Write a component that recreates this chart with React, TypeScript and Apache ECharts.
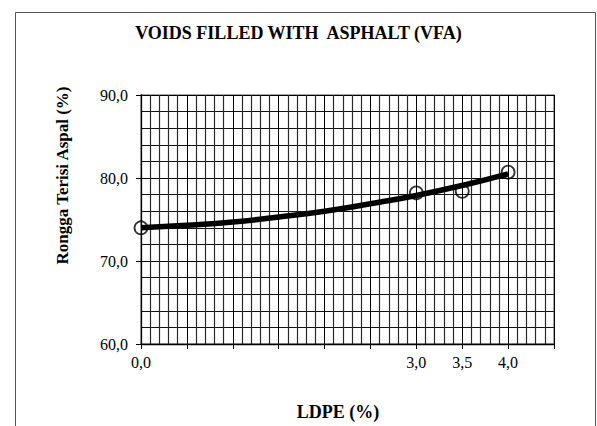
import React, { useEffect, useRef } from "react";
import * as echarts from "echarts";

const ldpe = [0, 3, 3.5, 4];
const vfa = [74.0, 78.2, 78.4, 80.7];
const trendX = [0, 0.5, 1, 1.5, 2, 2.5, 3, 3.5, 4];
const trendY = [74.0, 74.3, 74.7, 75.3, 76.0, 76.9, 77.9, 79.1, 80.5];
const xLabelValues = [0, 3, 3.5, 4];

const SERIF = '"Liberation Serif", "Times New Roman", serif';

const fmt = (v: number) => v.toFixed(1).replace(".", ",");

export default function App() {
  const ref = useRef<HTMLDivElement>(null);
  useEffect(() => {
    if (!ref.current) return;
    const chart = echarts.init(ref.current, null, { renderer: "svg" });
    chart.setOption({
      animation: false,
      backgroundColor: "#fff",
      title: {
        text: "VOIDS FILLED WITH  ASPHALT (VFA)",
        left: "center",
        top: 19,
        textStyle: { fontFamily: SERIF, fontWeight: "bold", fontSize: 18, color: "#000" },
      },
      graphic: [
        {
          type: "rect",
          shape: { x: 15.5, y: 12.5, width: 580, height: 440 },
          style: { fill: "none", stroke: "#555", lineWidth: 1 },
          silent: true,
        },
      ],
      grid: {
        left: 141,
        right: 43,
        top: 95,
        bottom: 81,
        show: true,
        borderColor: "#888",
        borderWidth: 1.5,
        backgroundColor: "transparent",
      },
      xAxis: {
        type: "value",
        min: 0,
        max: 4.5,
        interval: 0.5,
        name: "LDPE (%)",
        nameLocation: "middle",
        nameGap: 59,
        nameTextStyle: {
          fontFamily: SERIF,
          fontWeight: "bold",
          fontSize: 18,
          color: "#000",
          padding: [0, 19, 0, 0],
        },
        axisLine: { show: true, onZero: false, lineStyle: { color: "#000", width: 1.3 } },
        axisTick: { show: true, inside: false, length: 5, lineStyle: { color: "#000" } },
        axisLabel: {
          margin: 10,
          fontFamily: SERIF,
          fontSize: 16,
          color: "#000",
          formatter: (v: number) => (xLabelValues.some((x) => Math.abs(x - v) < 1e-9) ? fmt(v) : ""),
        },
        splitLine: { show: true, lineStyle: { color: "#000", width: 1 } },
        minorTick: { show: false, splitNumber: 5 },
        minorSplitLine: { show: true, lineStyle: { color: "#2a2a2a", width: 1.2 } },
      },
      yAxis: {
        type: "value",
        min: 60,
        max: 90,
        interval: 10,
        name: "Rongga Terisi Aspal (%)",
        nameLocation: "middle",
        nameGap: 70,
        nameTextStyle: {
          fontFamily: SERIF,
          fontWeight: "bold",
          fontSize: 17,
          color: "#000",
          padding: [0, 0, 0, 88],
        },
        axisLine: { show: true, onZero: false, lineStyle: { color: "#000", width: 1.3 } },
        axisTick: { show: true, inside: false, length: 5, lineStyle: { color: "#000" } },
        axisLabel: {
          margin: 13,
          fontFamily: SERIF,
          fontSize: 16,
          color: "#000",
          formatter: (v: number) => fmt(v),
        },
        splitLine: { show: true, lineStyle: { color: "#000", width: 1 } },
        minorTick: { show: false, splitNumber: 5 },
        minorSplitLine: { show: true, lineStyle: { color: "#111", width: 1.1 } },
      },
      series: [
        {
          name: "VFA",
          type: "scatter",
          data: ldpe.map((x, i) => [x, vfa[i]]),
          symbol: "circle",
          symbolSize: 13,
          itemStyle: { color: "rgba(255,255,255,0)", borderColor: "#000", borderWidth: 1.8 },
          z: 3,
        },
        {
          name: "Trend",
          type: "line",
          data: trendX.map((x, i) => [x, trendY[i]]),
          smooth: true,
          showSymbol: false,
          lineStyle: { color: "#000", width: 5.5 },
          z: 4,
        },
      ],
    });
    return () => chart.dispose();
  }, []);
  return (
    <div
      ref={ref}
      style={{ position: "fixed", left: 0, top: 0, width: 597, height: 426, background: "#fff" }}
    />
  );
}
